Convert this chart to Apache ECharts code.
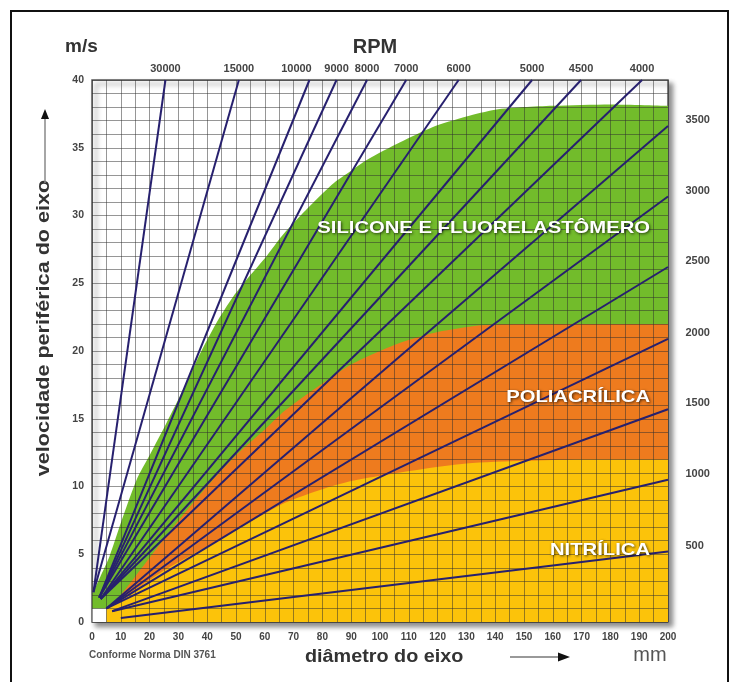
<!DOCTYPE html>
<html>
<head>
<meta charset="utf-8">
<script src="https://cdn.jsdelivr.net/npm/echarts@6/dist/echarts.min.js"></script>
<style>html,body{margin:0;padding:0;background:#fff;}#c{width:731px;height:682px;}</style>
</head>
<body>
<div id="c"></div>
<script>
// ---- data ----
const rpm      = [30000,15000,10000,9000,8000,7000,6000,5000,4500,4000,3500,3000,2500,2000,1500,1000,500];
const startD   = [0.5,0.5,2.5,2.5,2.5,2.5,3,3,3,3,5,5,5,5,7,7,10];
const startV   = [2.2,2.2,1.8,1.8,1.8,1.8,1.7,1.7,1.7,1.7,1.0,1.0,1.0,1.0,0.8,0.8,0.3];
const endD     = [25.5,51,75.5,84.9,95.5,109.1,127.3,152.8,169.8,191,200,200,200,200,200,200,200];
const endV     = [40,40,40,40,40,40,40,40,40,40,36.6,31.4,26.2,20.9,15.7,10.5,5.2];

const greenD   = [0,3,6,10,15.5,20,25.9,32,37.5,43,49,55,60.6,66,72,78,84,90,95.4,107,118,130,140,150,160,180,200];
const greenV   = [2.0,3.4,4.8,7.3,10.5,12.3,14.7,17.3,19.8,22.0,24.0,25.6,27.0,28.5,29.9,31.2,32.4,33.3,34.1,35.4,36.5,37.3,37.8,38.0,38.1,38.2,38.1];
const orangeD  = [5,10,18.4,32,42,50,60,67,80,90,107,120,135,150,200];
const orangeV  = [1.0,2.0,4.3,8.0,10.5,12.3,14.2,15.6,17.6,19.0,20.6,21.4,21.9,22.0,22.0];
const yellowD  = [5,15,25,35,45,55,67,80,90,100,115,130,150,170,200];
const yellowV  = [1.0,2.4,3.8,5.0,6.2,7.4,8.8,9.8,10.4,10.8,11.3,11.7,11.9,12.0,12.0];
const whiteD   = [0,5];
const whiteV   = [1,1];

const regionNames = ['SILICONE E FLUORELASTÔMERO','POLIACRÍLICA','NITRÍLICA'];

const FONT = "'Liberation Sans', Arial, sans-serif";
const LINE_COLOR = '#27206e';

function pts(ds, vs){ return ds.map((d,i)=>[d, vs[i]]); }

const areaSeries = [
  {name:'green', data:pts(greenD,greenV), color:'#72bc2b', z:1},
  {name:'orange', data:pts(orangeD,orangeV), color:'#ee7b1e', z:2},
  {name:'yellow', data:pts(yellowD,yellowV), color:'#fcc30a', z:3},
  {name:'white', data:pts(whiteD,whiteV), color:'#ffffff', z:3}
].map(a=>({
  type:'line', name:a.name, data:a.data, z:a.z,
  smooth: a.name==='white' ? false : 0.25,
  symbol:'none', silent:true,
  lineStyle:{width:0, color:a.color},
  areaStyle:{color:a.color, opacity:1}
}));

const rpmSeries = rpm.map((r,i)=>({
  type:'line', name:String(r), z:10, symbol:'none', silent:true,
  lineStyle:{width:2, color:LINE_COLOR},
  data:[[startD[i],startV[i]],[endD[i],endV[i]]]
}));

const labelStyle = {fontFamily:FONT, fontWeight:'bold', fontSize:11, color:'#444', opacity:1};
const rpmLabelSeries = {
  type:'scatter', z:12, silent:true, clip:false, symbol:'circle', symbolSize:1,
  itemStyle:{color:'rgba(0,0,0,0)'},
  data: rpm.map((r,i)=>{
    const top = endV[i] >= 40;
    return {
      value:[endD[i], endV[i]],
      label: top ? Object.assign({show:true, position:'top', distance:5, formatter:String(r),
                       offset: r===10000 ? [-13,0] : [0,0]}, labelStyle)
                 : Object.assign({show:true, position:'right', distance:17, formatter:String(r),
                       offset:[0,-6]}, labelStyle)
    };
  })
};

const shadowTxt = {textShadowColor:'rgba(0,0,0,0.7)', textShadowBlur:3, textShadowOffsetX:1, textShadowOffsetY:1};

const chart = echarts.init(document.getElementById('c'));
chart.setOption({
  animation:false,
  backgroundColor:'#fff',
  grid:{left:92, right:63, top:80, bottom:60, show:true, backgroundColor:'#fff',
        borderColor:'#555', borderWidth:1.5,
        shadowColor:'rgba(0,0,0,0.45)', shadowBlur:5, shadowOffsetX:4, shadowOffsetY:4},
  xAxis:{type:'value', min:0, max:200, interval:5, z:5,
    axisLine:{show:false}, axisTick:{show:false},
    splitLine:{show:true, lineStyle:{color:'rgba(45,45,45,0.5)', width:1}},
    axisLabel:{margin:10, fontFamily:FONT, fontWeight:'bold', fontSize:10, color:'#444',
      formatter:v=> (v%10===0 ? String(v) : '')}},
  yAxis:{type:'value', min:0, max:40, interval:1, z:5,
    axisLine:{show:false}, axisTick:{show:false},
    splitLine:{show:true, lineStyle:{color:'rgba(45,45,45,0.5)', width:1}},
    axisLabel:{margin:8, fontFamily:FONT, fontWeight:'bold', fontSize:10.5, color:'#444',
      formatter:v=> (v%5===0 ? String(v) : '')}},
  series: areaSeries.concat(rpmSeries, [rpmLabelSeries]),
  graphic:[
    {type:'rect', shape:{x:11,y:11,width:717,height:700}, style:{fill:null, stroke:'#111', lineWidth:2}, silent:true},
    {type:'text', x:65, y:47, style:{text:'m/s', fontFamily:FONT, fontWeight:'bold', fontSize:19, fill:'#333', textVerticalAlign:'middle'}},
    {type:'text', x:375, y:47, style:{text:'RPM', fontFamily:FONT, fontWeight:'bold', fontSize:20, fill:'#333', textAlign:'center', textVerticalAlign:'middle'}},
    {type:'text', x:44, y:328, rotation:Math.PI/2, scaleX:1.2, style:{text:'velocidade periférica do eixo', fontFamily:FONT, fontWeight:'bold', fontSize:18, fill:'#333', textAlign:'center', textVerticalAlign:'middle'}},
    {type:'line', shape:{x1:45,y1:183,x2:45,y2:118}, style:{stroke:'#888', lineWidth:1.5}},
    {type:'polygon', shape:{points:[[45,109],[41,119],[49,119]]}, style:{fill:'#111'}},
    {type:'text', x:89, y:655, style:{text:'Conforme Norma DIN 3761', fontFamily:FONT, fontWeight:'bold', fontSize:10, fill:'#555', textVerticalAlign:'middle'}},
    {type:'text', x:305, y:657, scaleX:1.1, style:{text:'diâmetro do eixo', fontFamily:FONT, fontWeight:'bold', fontSize:18, fill:'#333', textVerticalAlign:'middle'}},
    {type:'line', shape:{x1:510,y1:657,x2:560,y2:657}, style:{stroke:'#777', lineWidth:1.5}},
    {type:'polygon', shape:{points:[[570,657],[558,652.5],[558,661.5]]}, style:{fill:'#111'}},
    {type:'text', x:650, y:655, style:{text:'mm', fontFamily:FONT, fontSize:20, fill:'#555', textAlign:'center', textVerticalAlign:'middle'}},
    {type:'text', x:650, y:228, z:20, scaleX:1.19, style:Object.assign({text:regionNames[0], fontFamily:FONT, fontWeight:'bold', fontSize:17, fill:'#fff', textAlign:'right', textVerticalAlign:'middle'}, shadowTxt)},
    {type:'text', x:650, y:397, z:20, scaleX:1.19, style:Object.assign({text:regionNames[1], fontFamily:FONT, fontWeight:'bold', fontSize:17, fill:'#fff', textAlign:'right', textVerticalAlign:'middle'}, shadowTxt)},
    {type:'text', x:650, y:550, z:20, scaleX:1.19, style:Object.assign({text:regionNames[2], fontFamily:FONT, fontWeight:'bold', fontSize:17, fill:'#fff', textAlign:'right', textVerticalAlign:'middle'}, shadowTxt)}
  ]
});
</script>
</body>
</html>
